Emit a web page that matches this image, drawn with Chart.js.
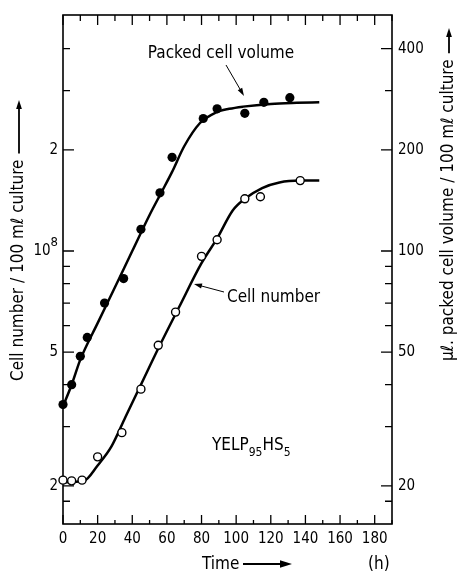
<!DOCTYPE html>
<html>
<head>
<meta charset="utf-8">
<title>Cell number and packed cell volume</title>
<script src="https://cdn.jsdelivr.net/npm/chart.js@4.4.1/dist/chart.umd.min.js"></script>
<style>
  html, body { margin: 0; padding: 0; background: #fff; }
  canvas { display: block; }
</style>
</head>
<body>
<canvas id="growthChart" width="460" height="574"></canvas>
<script>
// Measured points (time in h)
const cellTimes = [0, 5, 11, 20, 34, 45, 55, 65, 80, 89, 105, 114, 137];
const cellNumbers = [2.08e7, 2.07e7, 2.08e7, 2.44e7, 2.88e7, 3.88e7, 5.24e7, 6.58e7, 9.64e7, 1.08e8, 1.43e8, 1.45e8, 1.62e8];

const pcvTimes = [0, 5, 10, 14, 24, 35, 45, 56, 63, 81, 89, 105, 116, 131];
const pcvVolumes = [34.9, 40.0, 48.6, 55.3, 70.0, 82.8, 116, 149, 190, 248, 265, 257, 277, 286];

// Hand-drawn curves through the points
const cellCurveTimes = [0, 12, 20, 28, 36, 45, 56, 67, 80, 89, 98, 105, 115, 125, 137, 148];
const cellCurveValues = [2.05e7, 2.07e7, 2.3e7, 2.62e7, 3.2e7, 4.0e7, 5.25e7, 6.8e7, 9.2e7, 1.09e8, 1.32e8, 1.43e8, 1.54e8, 1.6e8, 1.62e8, 1.62e8];

const pcvCurveTimes = [0, 5, 10, 20, 30, 40, 50, 57, 63, 70, 79, 88, 96, 104, 120, 135, 148];
const pcvCurveValues = [34.5, 40, 47.5, 61, 78, 100, 128, 150, 172, 205, 240, 258, 265, 269, 274, 276, 277];

// Axis ticks
const timeTicks = [0, 10, 20, 30, 40, 50, 60, 70, 80, 90, 100, 110, 120, 130, 140, 150, 160, 170, 180, 190];
const cellTickValues = [2e7, 5e7, 1e8, 2e8];
const cellTickLabels = ['2', '5', '10^8', '2'];
const cellMinorTicks = [1.8e7, 3e7, 4e7, 6e7, 7e7, 8e7, 9e7, 3e8, 4e8];
const pcvTickValues = [20, 50, 100, 200, 400];
const pcvTickLabels = ['20', '50', '100', '200', '400'];
const pcvMinorTicks = [18, 30, 40, 60, 70, 80, 90, 300];

const FONT = '"DejaVu Sans Condensed", "DejaVu Sans", sans-serif';
const TICK_FONT = '"Liberation Sans Narrow", "DejaVu Sans Condensed", sans-serif';

const toPoints = (xs, ys) => xs.map((x, i) => ({ x: x, y: ys[i] }));

function drawArrow(c, x1, y1, x2, y2, head, width) {
  const a = Math.atan2(y2 - y1, x2 - x1);
  c.lineWidth = width;
  c.beginPath();
  c.moveTo(x1, y1);
  c.lineTo(x2 - head * 0.6 * Math.cos(a), y2 - head * 0.6 * Math.sin(a));
  c.stroke();
  c.beginPath();
  c.moveTo(x2, y2);
  c.lineTo(x2 - head * Math.cos(a) + head * 0.32 * Math.sin(a), y2 - head * Math.sin(a) - head * 0.32 * Math.cos(a));
  c.lineTo(x2 - head * Math.cos(a) - head * 0.32 * Math.sin(a), y2 - head * Math.sin(a) + head * 0.32 * Math.cos(a));
  c.closePath();
  c.fill();
}

// Box, inward tick marks and left tick labels
const framePlugin = {
  id: 'frame',
  beforeDatasetsDraw(chart) {
    const c = chart.ctx;
    const { left, right, top, bottom } = chart.chartArea;
    const sx = chart.scales.x, sy = chart.scales.y, sy1 = chart.scales.y1;
    c.save();
    c.strokeStyle = '#000';
    c.lineWidth = 1.6;
    c.strokeRect(left, top, right - left, bottom - top);
    c.lineWidth = 1.3;
    c.beginPath();
    timeTicks.forEach(t => {
      const x = sx.getPixelForValue(t);
      const big = t % 20 === 0;
      c.moveTo(x, bottom); c.lineTo(x, bottom - (big ? 9 : 4));
      c.moveTo(x, top); c.lineTo(x, top + (big ? 10 : 6));
    });
    cellTickValues.forEach(v => {
      const y = sy.getPixelForValue(v);
      c.moveTo(left, y); c.lineTo(left + 11, y);
    });
    cellMinorTicks.forEach(v => {
      const y = sy.getPixelForValue(v);
      c.moveTo(left, y); c.lineTo(left + 7, y);
    });
    pcvTickValues.forEach(v => {
      const y = sy1.getPixelForValue(v);
      c.moveTo(right, y); c.lineTo(right - 11, y);
    });
    pcvMinorTicks.forEach(v => {
      const y = sy1.getPixelForValue(v);
      c.moveTo(right, y); c.lineTo(right - 7, y);
    });
    c.stroke();

    // left labels, with a raised exponent where needed
    c.fillStyle = '#000';
    c.textAlign = 'right';
    c.textBaseline = 'middle';
    cellTickValues.forEach((v, i) => {
      const y = sy.getPixelForValue(v);
      const [base, exp] = cellTickLabels[i].split('^');
      let x = left - 5;
      if (exp) {
        c.font = '13px ' + TICK_FONT;
        c.fillText(exp, x, y - 8);
        x -= c.measureText(exp).width;
      }
      c.font = '15px ' + TICK_FONT;
      c.fillText(base, x, y);
    });
    c.restore();
  },
  afterDraw(chart) {
    const c = chart.ctx;
    c.save();
    c.fillStyle = '#000';
    c.strokeStyle = '#000';
    c.font = '17px ' + FONT;

    // left axis title
    c.save();
    c.translate(19, 381);
    c.rotate(-Math.PI / 2);
    c.textAlign = 'left';
    c.textBaseline = 'middle';
    const leftText = 'Cell number / 100 m\u2113 culture';
    c.fillText(leftText, 0, 0);
    drawArrow(c, c.measureText(leftText).width + 6, 0, 281, 0, 9, 1.8);
    c.restore();

    // right axis title
    c.save();
    c.translate(449, 361);
    c.rotate(-Math.PI / 2);
    c.textAlign = 'left';
    c.textBaseline = 'middle';
    const rightText = '\u00b5\u2113. packed cell volume / 100 m\u2113 culture';
    c.fillText(rightText, 0, 0);
    drawArrow(c, c.measureText(rightText).width + 6, 0, 333, 0, 9, 1.8);
    c.restore();

    // x axis title
    c.textBaseline = 'alphabetic';
    c.textAlign = 'left';
    c.fillText('Time', 202, 569);
    drawArrow(c, 243, 564, 292, 564, 12, 2);
    c.fillText('(h)', 368, 569);

    // curve labels
    c.textAlign = 'center';
    c.fillText('Packed cell volume', 221, 58);
    drawArrow(c, 226, 65, 244, 96, 8, 1);
    c.textAlign = 'left';
    c.fillText('Cell number', 227, 302);
    drawArrow(c, 224, 292, 194, 284, 8, 1);

    // strain name with subscripts
    let x = 212;
    const parts = [['YELP', 0, 17], ['95', 6, 12], ['HS', 0, 17], ['5', 6, 12]];
    parts.forEach(p => {
      c.font = p[2] + 'px ' + FONT;
      c.fillText(p[0], x, 450 + p[1]);
      x += c.measureText(p[0]).width;
    });
    c.restore();
  }
};

const ctx = document.getElementById('growthChart').getContext('2d');
new Chart(ctx, {
  type: 'scatter',
  data: {
    datasets: [
      {
        label: 'Cell number',
        data: toPoints(cellTimes, cellNumbers),
        yAxisID: 'y',
        showLine: false,
        pointRadius: 4,
        pointBorderWidth: 1.4,
        pointBackgroundColor: '#fff',
        pointBorderColor: '#000',
        clip: false
      },
      {
        label: 'Packed cell volume',
        data: toPoints(pcvTimes, pcvVolumes),
        yAxisID: 'y1',
        showLine: false,
        pointRadius: 4.6,
        pointBorderWidth: 0,
        pointBackgroundColor: '#000',
        pointBorderColor: '#000',
        clip: false
      },
      {
        label: 'Cell number curve',
        data: toPoints(cellCurveTimes, cellCurveValues),
        yAxisID: 'y',
        showLine: true,
        pointRadius: 0,
        borderColor: '#000',
        borderWidth: 2.5,
        cubicInterpolationMode: 'monotone',
        clip: false
      },
      {
        label: 'Packed cell volume curve',
        data: toPoints(pcvCurveTimes, pcvCurveValues),
        yAxisID: 'y1',
        showLine: true,
        pointRadius: 0,
        borderColor: '#000',
        borderWidth: 2.5,
        cubicInterpolationMode: 'monotone',
        clip: false
      }
    ]
  },
  options: {
    responsive: false,
    animation: false,
    layout: { padding: { top: 6, left: 0, right: 0, bottom: 0 } },
    plugins: {
      legend: { display: false },
      tooltip: { enabled: false }
    },
    scales: {
      x: {
        type: 'linear',
        position: 'bottom',
        min: 0,
        max: 190,
        afterFit: s => { s.height = 50; },
        afterBuildTicks: s => { s.ticks = timeTicks.map(v => ({ value: v })); },
        grid: { display: false, drawTicks: false },
        border: { display: false },
        ticks: {
          autoSkip: false,
          maxRotation: 0,
          padding: 6,
          color: '#000',
          font: { family: TICK_FONT, size: 15 },
          callback: v => (v % 20 === 0 && v <= 180 ? String(v) : '')
        }
      },
      y: {
        type: 'logarithmic',
        position: 'left',
        min: 1.54e7,
        max: 5.04e8,
        afterFit: s => { s.width = 63; },
        afterBuildTicks: s => { s.ticks = cellTickValues.concat(cellMinorTicks).map(v => ({ value: v })); },
        grid: { display: false, drawTicks: false },
        border: { display: false },
        ticks: { display: false }
      },
      y1: {
        type: 'logarithmic',
        position: 'right',
        min: 15.4,
        max: 504,
        afterFit: s => { s.width = 68; },
        afterBuildTicks: s => { s.ticks = pcvTickValues.concat(pcvMinorTicks).map(v => ({ value: v })); },
        grid: { display: false, drawTicks: false },
        border: { display: false },
        ticks: {
          autoSkip: false,
          padding: 6,
          color: '#000',
          font: { family: TICK_FONT, size: 15 },
          callback: v => {
            const i = pcvTickValues.indexOf(v);
            return i >= 0 ? pcvTickLabels[i] : '';
          }
        }
      }
    }
  },
  plugins: [framePlugin]
});
</script>
</body>
</html>
